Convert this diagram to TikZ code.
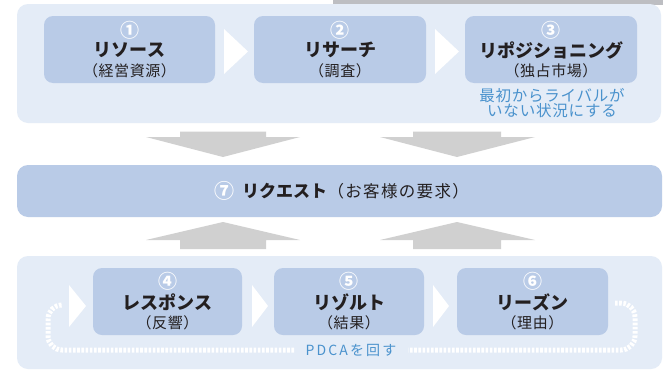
\documentclass[tikz,border=0pt]{standalone}
\usepackage{fontspec}
\setmainfont{Noto Sans CJK JP}
\definecolor{panel}{HTML}{E4ECF7}
\definecolor{boxc}{HTML}{B9CBE7}
\definecolor{arrowc}{HTML}{D0D0D0}
\definecolor{bluetxt}{HTML}{4A92CD}
\definecolor{darktxt}{HTML}{231F20}
\definecolor{topbar}{HTML}{BDBEC2}
\tikzset{
  panelbox/.style={fill=panel, rounded corners=11pt, draw=none},
  stepbox/.style={fill=boxc, rounded corners=9pt, draw=none, inner sep=0pt,
    minimum width=#1, minimum height=67pt},
  chev/.style={fill=white, draw=none},
  bigarrow/.style={fill=arrowc, draw=none},
  loopline/.style={draw=white, line width=5pt, dash pattern=on 2.6pt off 1.6pt, rounded corners=14pt},
  note/.style={text=bluetxt, align=center, inner sep=0pt},
  numlbl/.style={inner sep=0pt, text=white, font=\fontsize{19}{20}\selectfont\bfseries},
  namelbl/.style={inner sep=0pt, text=darktxt, font=\fontsize{18}{20}\selectfont\bfseries},
  sublbl/.style={inner sep=0pt, text=darktxt, font=\fontsize{15}{18}\selectfont\addfontfeatures{LetterSpace=4}}
}
\begin{document}
\begin{tikzpicture}[x=1pt,y=-1pt]
\useasboundingbox (0,0) rectangle (663,375);
\fill[white] (0,0) rectangle (663,375);
% top gray bar
\fill[topbar] (333,0) rectangle (663,4.5);
% panels
\fill[panelbox] (17,4) rectangle (661,123);
\fill[panelbox] (17,256) rectangle (662,369);
% top row
\node[stepbox=171pt] (b1) at (129.5,49.5) {};
\node[stepbox=172pt] (b2) at (340,49.5) {};
\node[stepbox=172pt] (b3) at (551,49.5) {};
\node[numlbl] (n1) at (129.5,30) {①};
\node[namelbl] (t1) at (129.5,50) {リソース};
\node[sublbl] (s1) at (129.5,70.5) {（経営資源）};
\node[numlbl] (n2) at (340,30) {②};
\node[namelbl] (t2) at (340,50) {リサーチ};
\node[sublbl] (s2) at (340,70.5) {（調査）};
\node[numlbl] (n3) at (551,30) {③};
\node[namelbl] (t3) at (551,50) {リポジショニング};
\node[sublbl] (s3) at (551,70.5) {（独占市場）};
\fill[chev] (224,29) -- (248,51.5) -- (224,74) -- cycle;
\fill[chev] (435,29) -- (459,51.5) -- (435,74) -- cycle;
\node[note, font=\fontsize{15.5}{15.5}\selectfont\addfontfeatures{LetterSpace=5}] (note3) at (552,103) {最初からライバルが\\いない状況にする};
% down arrows
\fill[bigarrow] (180,131.5) -- (266,131.5) -- (266,137) -- (300,137) -- (223,157) -- (146,137) -- (180,137) -- cycle;
\fill[bigarrow] (413,131.5) -- (501,131.5) -- (501,137) -- (535,137) -- (457,157) -- (380,137) -- (413,137) -- cycle;
% request bar
\node[fill=boxc, rounded corners=11pt, minimum width=645pt, minimum height=52pt, inner sep=0pt] (req) at (339.5,191) {};
\node[numlbl, font=\fontsize{20}{20}\selectfont\bfseries] (n7) at (224.5,191) {⑦};
\node[namelbl, anchor=west, font=\fontsize{17}{20}\selectfont\bfseries] (rq1) at (242,191) {リクエスト};
\node[sublbl, anchor=west, font=\fontsize{16.5}{18}\selectfont\addfontfeatures{LetterSpace=8}] (rq2) at (rq1.east) {（お客様の要求）};
% up arrows
\fill[bigarrow] (180,249) -- (266,249) -- (266,240) -- (300,240) -- (223,222) -- (146,240) -- (180,240) -- cycle;
\fill[bigarrow] (413,249) -- (501,249) -- (501,240) -- (535,240) -- (457,222) -- (380,240) -- (413,240) -- cycle;
% bottom row
\node[stepbox=149pt] (b4) at (167.5,301.5) {};
\node[stepbox=150pt] (b5) at (349,301.5) {};
\node[stepbox=151pt] (b6) at (532.5,301.5) {};
\node[numlbl] (n4) at (167.5,281) {④};
\node[namelbl] (t4) at (167.5,302) {レスポンス};
\node[sublbl] (s4) at (167.5,322.5) {（反響）};
\node[numlbl] (n5) at (349,281) {⑤};
\node[namelbl] (t5) at (349,302) {リゾルト};
\node[sublbl] (s5) at (349,322.5) {（結果）};
\node[numlbl] (n6) at (532.5,281) {⑥};
\node[namelbl] (t6) at (532.5,302) {リーズン};
\node[sublbl] (s6) at (532.5,322.5) {（理由）};
\fill[chev] (69,285) -- (86,306) -- (69,327) -- cycle;
\fill[chev] (252,285) -- (268,306) -- (252,327) -- cycle;
\fill[chev] (433,285) -- (449,306) -- (433,327) -- cycle;
% PDCA loop
\node[note, font=\fontsize{14}{14}\selectfont\addfontfeatures{LetterSpace=15}] (pdca) at (351,350) {PDCAを回す};
\coordinate (ls) at (615,303);
\coordinate (le) at (61,305);
\draw[loopline] (ls) -- (635,303) -- (635,350) -- (408,350);
\draw[loopline] (294,350) -- (48,350) -- (48,305) -- (le);
\end{tikzpicture}
\end{document}
